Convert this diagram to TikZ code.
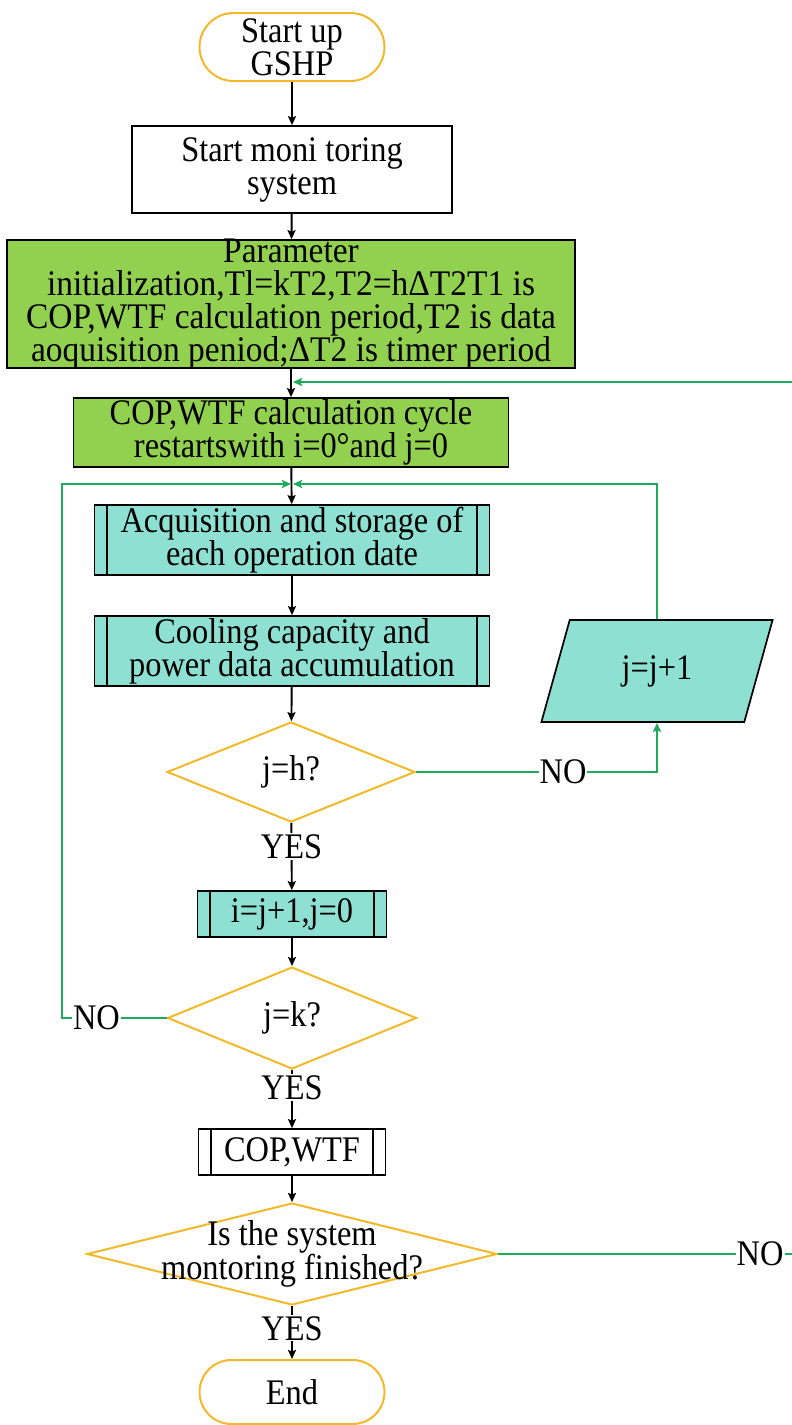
\documentclass[tikz,border=0pt]{standalone}
\usepackage{fontspec}
\setmainfont[FakeStretch=0.9]{Liberation Serif}
\newfontfamily\parfont[FakeStretch=0.93]{Liberation Serif}
\usetikzlibrary{shapes.geometric,arrows.meta,calc}

\definecolor{gold}{RGB}{242,184,40}
\definecolor{flowgreen}{RGB}{30,172,92}
\definecolor{boxgreen}{RGB}{146,208,80}
\definecolor{aqua}{RGB}{142,224,210}

\tikzset{
  txt/.style={font=\fontsize{36}{33}\selectfont, align=center, inner sep=0pt},
  terminal/.style={txt, draw=gold, line width=2pt, rounded corners=34pt,
    minimum width=185pt, minimum height=68pt},
  proc/.style={txt, draw=black, line width=1.7pt},
  subproc/.style={proc, fill=aqua,
    path picture={\draw[line width=1.5pt]
      ([xshift=12.5pt]path picture bounding box.north west) --
      ([xshift=12.5pt]path picture bounding box.south west)
      ([xshift=-12.5pt]path picture bounding box.north east) --
      ([xshift=-12.5pt]path picture bounding box.south east);}},
  decision/.style={diamond, draw=gold, line width=2pt, inner sep=0pt},
  dtext/.style={txt},
  iobox/.style={txt, trapezium, trapezium left angle=70, trapezium right angle=110,
    trapezium stretches=true, draw=black, line width=1.7pt, fill=aqua},
  lbl/.style={txt, fill=white, inner sep=1pt},
  arr/.style={draw=black, line width=1.9pt, -{Stealth[length=9pt,width=8pt,inset=1.5pt]}},
  garr/.style={draw=flowgreen, line width=1.9pt, -{Stealth[length=9pt,width=8pt,inset=1.5pt]}},
}

\begin{document}
\begin{tikzpicture}[x=1pt,y=-1pt]
\useasboundingbox (0,0) rectangle (792,1425);

% main column
\node[terminal] (start) at (292,47) {Start up\\GSHP};
\node[proc, minimum width=320pt, minimum height=87pt] (mon) at (292,169.5)
  {Start moni toring\\system};
\node[proc, fill=boxgreen, minimum width=568pt, minimum height=128pt, inner ysep=-2.5pt,
  font=\parfont\fontsize{36}{33}\selectfont] (par) at (291,304)
  {Parameter\\initialization,Tl=kT2,T2=hΔT2T1 is\\COP,WTF calculation period,T2 is data\\aoquisition peniod;ΔT2 is timer period};
\node[proc, fill=boxgreen, minimum width=435pt, minimum height=69pt] (cyc) at (291,432.5)
  {COP,WTF calculation cycle\\restartswith i=0°and j=0};
\node[subproc, minimum width=395pt, minimum height=70pt] (acq) at (292,540)
  {Acquisition and storage of\\each operation date};
\node[subproc, minimum width=395pt, minimum height=70pt] (cool) at (292,651)
  {Cooling capacity and\\power data accumulation};
\node[decision, minimum width=248pt, minimum height=100pt,
  label={[dtext]center:j=h?}] (dh) at (291,772) {};
\node[iobox, minimum width=233pt, minimum height=102pt] (inc) at (657,671) {j=j+1};
\node[subproc, minimum width=189pt, minimum height=46pt] (ij) at (292,914) {i=j+1,j=0};
\node[decision, minimum width=249pt, minimum height=102pt,
  label={[dtext]center:j=k?}] (dk) at (292,1018) {};
\node[subproc, fill=white, minimum width=187pt, minimum height=46pt] (cw) at (292,1152) {COP,WTF};
\node[decision, minimum width=410pt, minimum height=102pt,
  label={[dtext]center:{Is the system\\montoring finished?}}] (fin) at (292,1254) {};
\node[terminal, minimum height=64pt, rounded corners=32pt] (end) at (292,1392) {End};

% junction points of the loops
\coordinate (jt) at (292,382);
\coordinate (jn) at (292,484);
\coordinate (lft) at (62,484);
\coordinate (rgt) at (800,382);

% main flow
\draw[arr] (start) -- (mon);
\draw[arr] (mon) -- (par);
\draw[arr] (par) -- (cyc);
\draw[arr] (cyc) -- (acq);
\draw[arr] (acq) -- (cool);
\draw[arr] (cool) -- (dh);
\draw[arr] (dh) -- node[lbl, pos=0.35] {YES} (ij);
\draw[arr] (ij) -- (dk);
\draw[arr] (dk) -- node[lbl, pos=0.3] {YES} (cw);
\draw[arr] (cw) -- (fin);
\draw[arr] (fin) -- node[lbl, pos=0.42] {YES} (end);

% loops
\draw[garr] (dh.east) -- node[lbl, pos=0.61] {NO} (dh.east -| inc.south) -- (inc.south);
\draw[garr] (inc.north) -- (inc.north |- jn) -- ([xshift=1pt]jn);
\draw[garr] (dk.west) -- node[lbl, pos=0.67] {NO} (dk.west -| lft) -- (lft) -- ([xshift=-1pt]jn);
\draw[garr] (fin.east) -- node[lbl, pos=0.868] {NO} (fin.east -| rgt) -- (rgt) -- ([xshift=1pt]jt);
\end{tikzpicture}
\end{document}
